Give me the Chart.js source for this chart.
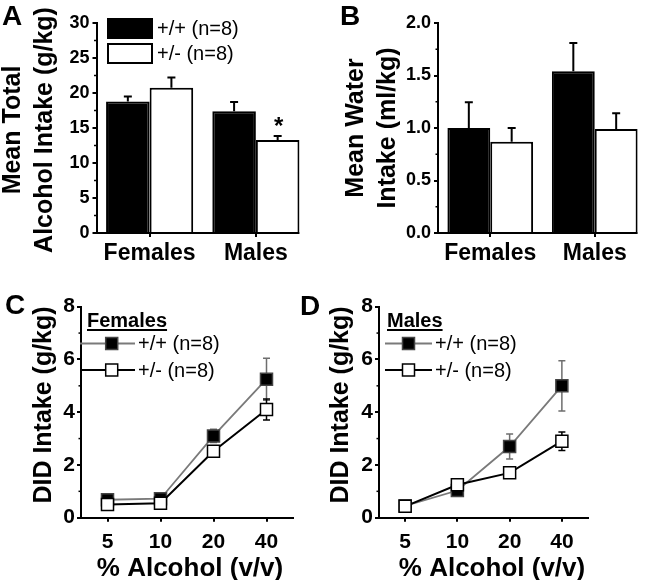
<!DOCTYPE html>
<html><head><meta charset="utf-8">
<script src="https://cdn.jsdelivr.net/npm/chart.js@4.4.1/dist/chart.umd.min.js"></script>
<style>
html,body{margin:0;padding:0;background:#fff;}
#wrap{position:relative;width:650px;height:580px;background:#fff;}
canvas{position:absolute;left:0;top:0;}
</style></head><body>
<div id="wrap">
<canvas id="cA" width="650" height="580"></canvas>
<canvas id="cB" width="650" height="580"></canvas>
<canvas id="cC" width="650" height="580"></canvas>
<canvas id="cD" width="650" height="580"></canvas>
</div>
<script>
// ---------- data ----------
const barCategories = ['Females', 'Males'];
const seriesLabels = ['+/+ (n=8)', '+/- (n=8)'];

const totalAlcoholWT = [18.8, 17.4];
const totalAlcoholWTErr = [0.7, 1.3];
const totalAlcoholHet = [20.75, 13.3];
const totalAlcoholHetErr = [1.45, 0.55];

const waterWT = [1.0, 1.54];
const waterWTErr = [0.245, 0.27];
const waterHet = [0.87, 0.99];
const waterHetErr = [0.13, 0.15];

const alcoholConc = ['5', '10', '20', '40'];
const didFemalesWT = [0.68, 0.72, 3.1, 5.25];
const didFemalesWTErr = [0.1, 0.1, 0.25, 0.8];
const didFemalesHet = [0.5, 0.55, 2.52, 4.1];
const didFemalesHetErr = [0.15, 0.15, 0.2, 0.4];
const didMalesWT = [0.45, 1.03, 2.7, 5.0];
const didMalesWTErr = [0.1, 0.15, 0.47, 0.95];
const didMalesHet = [0.43, 1.25, 1.7, 2.9];
const didMalesHetErr = [0.15, 0.15, 0.15, 0.35];

const yTicksA = [0, 5, 10, 15, 20, 25, 30];
const yTicksB = [0, 0.5, 1.0, 1.5, 2.0];
const yTicksCD = [0, 2, 4, 6, 8];

// ---------- helpers ----------
const FAMILY = '"Liberation Sans", Arial, Helvetica, sans-serif';
function fnt(size, bold) { return (bold ? 'bold ' : '') + size + 'px ' + FAMILY; }
const YW = 50, XH = 45;

function padFor(a) {
  return { left: a.l - YW, right: 650 - a.r, top: a.t, bottom: 580 - a.b - XH };
}

function drawErr(chart, index, p) {
  const ds = chart.data.datasets[index];
  if (!ds.err) return;
  const y = chart.scales.y, ctx = chart.ctx;
  const meta = chart.getDatasetMeta(index);
  ctx.save();
  ctx.strokeStyle = ds.errColor || '#000';
  ctx.lineWidth = p.errWidth;
  meta.data.forEach((el, i) => {
    const v = ds.data[i], e = ds.err[i];
    const yt = y.getPixelForValue(v + e);
    const yb = p.bothErr ? y.getPixelForValue(v - e) : el.y;
    const x = el.x;
    ctx.beginPath();
    ctx.moveTo(x, yb); ctx.lineTo(x, yt);
    ctx.moveTo(x - p.cap, yt); ctx.lineTo(x + p.cap, yt);
    if (p.bothErr) { ctx.moveTo(x - p.cap, yb); ctx.lineTo(x + p.cap, yb); }
    ctx.stroke();
  });
  ctx.restore();
}

function panelPlugin(p) {
  return {
    id: 'panel' + p.letter,
    beforeDatasetDraw(chart, args) { if (p.errBelow) drawErr(chart, args.index, p); },
    afterDatasetDraw(chart, args) { if (!p.errBelow) drawErr(chart, args.index, p); },
    afterDraw(chart) {
      const ctx = chart.ctx, ca = chart.chartArea, y = chart.scales.y;
      ctx.save();
      ctx.strokeStyle = '#000'; ctx.fillStyle = '#000';
      // minor ticks
      ctx.lineWidth = 1.5;
      const t = y.ticks;
      for (let i = 0; i < t.length - 1; i++) {
        const py = y.getPixelForValue((t[i].value + t[i + 1].value) / 2);
        ctx.beginPath(); ctx.moveTo(ca.left - 2.5, py); ctx.lineTo(ca.left, py); ctx.stroke();
      }
      // bar x-axis line ending at last bar
      if (p.barAxis) {
        const meta = chart.getDatasetMeta(chart.data.datasets.length - 1);
        const last = meta.data[meta.data.length - 1];
        ctx.lineWidth = 2;
        ctx.beginPath(); ctx.moveTo(ca.left - 1, ca.bottom); ctx.lineTo(last.x + last.width / 2, ca.bottom); ctx.stroke();
      }
      // panel letter
      ctx.font = fnt(28, true); ctx.textAlign = 'left'; ctx.textBaseline = 'alphabetic';
      ctx.fillText(p.letter, p.letterX, p.letterY);
      // y title
      p.yTitle.forEach(l => {
        ctx.save();
        ctx.translate(l.x, p.yTitleCY);
        ctx.rotate(-Math.PI / 2);
        ctx.font = fnt(p.yTitleSize, true);
        ctx.textAlign = 'center'; ctx.textBaseline = 'alphabetic';
        ctx.fillText(l.text, 0, 0);
        ctx.restore();
      });
      // x title
      if (p.xTitle) {
        ctx.font = fnt(p.xTitle.size, true); ctx.textAlign = 'center'; ctx.textBaseline = 'alphabetic';
        ctx.fillText(p.xTitle.text, p.xTitle.x, p.xTitle.y);
      }
      // asterisk
      if (p.star) {
        const meta = chart.getDatasetMeta(p.star.ds);
        const el = meta.data[p.star.i];
        const ds = chart.data.datasets[p.star.ds];
        const py = y.getPixelForValue(ds.data[p.star.i] + ds.err[p.star.i]);
        ctx.font = fnt(24, true); ctx.textAlign = 'center'; ctx.textBaseline = 'alphabetic';
        ctx.fillText('*', el.x + 1, py - 2);
      }
      // bar legend
      if (p.barLegend) {
        const L = p.barLegend;
        chart.data.datasets.forEach((ds, i) => {
          const by = L.y + i * L.dy;
          ctx.fillStyle = ds.backgroundColor;
          ctx.fillRect(L.x, by, L.w, L.h);
          ctx.lineWidth = 2; ctx.strokeStyle = '#000';
          ctx.strokeRect(L.x + 1, by + 1, L.w - 2, L.h - 2);
          ctx.fillStyle = '#000';
          ctx.font = fnt(20, false); ctx.textAlign = 'left'; ctx.textBaseline = 'middle';
          ctx.fillText(ds.label, L.x + L.w + 4, by + L.h / 2 + 1);
        });
      }
      // line legend
      if (p.lineLegend) {
        const L = p.lineLegend;
        ctx.font = fnt(20, true); ctx.textAlign = 'left'; ctx.textBaseline = 'alphabetic';
        ctx.fillText(L.title, L.titleX, L.titleY);
        const tw = ctx.measureText(L.title).width;
        ctx.lineWidth = 2;
        ctx.beginPath(); ctx.moveTo(L.titleX, L.titleY + 3); ctx.lineTo(L.titleX + tw, L.titleY + 3); ctx.stroke();
        [0, 1].forEach((i, k) => {
          const ds = chart.data.datasets[i];
          const ry = L.rows[k];
          ctx.strokeStyle = ds.borderColor; ctx.lineWidth = ds.borderWidth;
          ctx.beginPath(); ctx.moveTo(L.x1, ry); ctx.lineTo(L.x2, ry); ctx.stroke();
          const s = 12;
          ctx.fillStyle = ds.pointBackgroundColor;
          ctx.fillRect(L.mx - s / 2, ry - s / 2, s, s);
          ctx.strokeStyle = ds.pointBorderColor; ctx.lineWidth = 1.5;
          ctx.strokeRect(L.mx - s / 2, ry - s / 2, s, s);
          ctx.fillStyle = '#000';
          ctx.font = fnt(20, false); ctx.textBaseline = 'middle';
          ctx.fillText(ds.label, L.tx, ry + 1);
        });
      }
      ctx.restore();
    }
  };
}

function barChart(id, area, cats, ds, ticks, fmt, p) {
  return new Chart(document.getElementById(id), {
    type: 'bar',
    data: { labels: cats, datasets: ds },
    options: {
      responsive: false, animation: false, devicePixelRatio: 1,
      layout: { padding: padFor(area) },
      plugins: { legend: { display: false }, tooltip: { enabled: false } },
      categoryPercentage: 0.82, barPercentage: 1,
      scales: {
        x: {
          grid: { drawOnChartArea: false, offset: false, tickLength: 4, color: '#000', lineWidth: 2 },
          border: { display: false },
          ticks: { font: { family: FAMILY, size: 23, weight: 'bold' }, color: '#000', padding: 3, maxRotation: 0 },
          afterFit(s) { s.height = XH; }
        },
        y: {
          min: ticks[0], max: ticks[ticks.length - 1],
          afterBuildTicks(s) { s.ticks = ticks.map(v => ({ value: v })); },
          grid: { drawOnChartArea: false, tickLength: 4, color: '#000', lineWidth: 2 },
          border: { color: '#000', width: 2 },
          ticks: { font: { family: FAMILY, size: 18, weight: 'bold' }, color: '#000', padding: 3, callback: fmt },
          afterFit(s) { s.width = YW; }
        }
      }
    },
    plugins: [panelPlugin(p)]
  });
}

function lineChart(id, area, cats, ds, ticks, p) {
  return new Chart(document.getElementById(id), {
    type: 'line',
    data: { labels: cats, datasets: ds },
    options: {
      responsive: false, animation: false, devicePixelRatio: 1,
      layout: { padding: padFor(area) },
      plugins: { legend: { display: false }, tooltip: { enabled: false } },
      elements: { line: { tension: 0 } },
      scales: {
        x: {
          offset: true,
          grid: { drawOnChartArea: false, offset: false, tickLength: 4, color: '#000', lineWidth: 2 },
          border: { color: '#000', width: 2 },
          ticks: { font: { family: FAMILY, size: 21, weight: 'bold' }, color: '#000', padding: 8, maxRotation: 0 },
          afterFit(s) { s.height = XH; }
        },
        y: {
          min: ticks[0], max: ticks[ticks.length - 1],
          afterBuildTicks(s) { s.ticks = ticks.map(v => ({ value: v })); },
          grid: { drawOnChartArea: false, tickLength: 4, color: '#000', lineWidth: 2 },
          border: { color: '#000', width: 2 },
          ticks: { font: { family: FAMILY, size: 21, weight: 'bold' }, color: '#000', padding: 2 },
          afterFit(s) { s.width = YW; }
        }
      }
    },
    plugins: [panelPlugin(p)]
  });
}

function lineSets(wt, wtErr, het, hetErr) {
  return [
    { label: seriesLabels[0], data: wt, err: wtErr, errColor: '#6e6e6e', order: 1,
      borderColor: '#7a7a7a', borderWidth: 1.8, pointStyle: 'rect', pointRadius: 8.5,
      pointBackgroundColor: '#000', pointBorderColor: '#444', pointBorderWidth: 1.5 },
    { label: seriesLabels[1], data: het, err: hetErr, errColor: '#000', order: 0,
      borderColor: '#000', borderWidth: 2, pointStyle: 'rect', pointRadius: 8.5,
      pointBackgroundColor: '#fff', pointBorderColor: '#000', pointBorderWidth: 1.5 }
  ];
}

// ---------- Panel A ----------
barChart('cA', { l: 96.5, r: 309, t: 23, b: 233 }, barCategories, [
  { label: seriesLabels[0], data: totalAlcoholWT, err: totalAlcoholWTErr, backgroundColor: '#000', borderColor: '#000', borderWidth: 2 },
  { label: seriesLabels[1], data: totalAlcoholHet, err: totalAlcoholHetErr, backgroundColor: '#fff', borderColor: '#000', borderWidth: 2 }
], yTicksA, v => String(v), {
  letter: 'A', letterX: 2, letterY: 25, cap: 4, errWidth: 2, barAxis: true,
  yTitle: [{ text: 'Mean Total', x: 20 }, { text: 'Alcohol Intake (g/kg)', x: 52 }], yTitleCY: 130, yTitleSize: 25,
  star: { ds: 1, i: 1 },
  barLegend: { x: 107, y: 18, w: 46, h: 21, dy: 25 }
});

// ---------- Panel B ----------
barChart('cB', { l: 438, r: 647, t: 23, b: 233 }, barCategories, [
  { label: seriesLabels[0], data: waterWT, err: waterWTErr, backgroundColor: '#000', borderColor: '#000', borderWidth: 2 },
  { label: seriesLabels[1], data: waterHet, err: waterHetErr, backgroundColor: '#fff', borderColor: '#000', borderWidth: 2 }
], yTicksB, v => Number(v).toFixed(1), {
  letter: 'B', letterX: 340, letterY: 25, cap: 4, errWidth: 2, barAxis: true,
  yTitle: [{ text: 'Mean Water', x: 363 }, { text: 'Intake (ml/kg)', x: 395 }], yTitleCY: 128, yTitleSize: 25
});

// ---------- Panel C ----------
lineChart('cC', { l: 81, r: 293, t: 306.7, b: 517.7 }, alcoholConc,
  lineSets(didFemalesWT, didFemalesWTErr, didFemalesHet, didFemalesHetErr), yTicksCD, {
  letter: 'C', letterX: 5, letterY: 314, cap: 3.5, errWidth: 1.5, bothErr: true, errBelow: true,
  yTitle: [{ text: 'DID Intake (g/kg)', x: 51 }], yTitleCY: 405, yTitleSize: 25,
  xTitle: { text: '% Alcohol (v/v)', x: 190, y: 576, size: 26 },
  lineLegend: { title: 'Females', titleX: 87, titleY: 327, rows: [343.5, 370], x1: 80, x2: 135, mx: 111.7, tx: 138 }
});

// ---------- Panel D ----------
lineChart('cD', { l: 379, r: 588, t: 306.7, b: 517.7 }, alcoholConc,
  lineSets(didMalesWT, didMalesWTErr, didMalesHet, didMalesHetErr), yTicksCD, {
  letter: 'D', letterX: 300, letterY: 315, cap: 3.5, errWidth: 1.5, bothErr: true, errBelow: true,
  yTitle: [{ text: 'DID Intake (g/kg)', x: 348 }], yTitleCY: 405, yTitleSize: 25,
  xTitle: { text: '% Alcohol (v/v)', x: 492, y: 576, size: 26 },
  lineLegend: { title: 'Males', titleX: 387, titleY: 327, rows: [343.5, 370], x1: 385, x2: 432, mx: 408.5, tx: 435 }
});
</script>
</body></html>
